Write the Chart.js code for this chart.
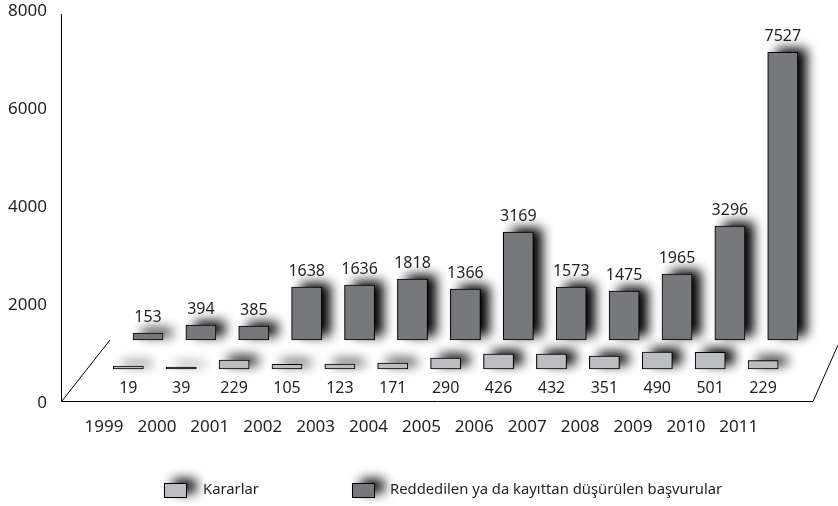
<!DOCTYPE html>
<html lang="tr">
<head>
  <meta charset="UTF-8" />
  <title>Kararlar ve Reddedilen Başvurular</title>
  <script src="https://cdn.jsdelivr.net/npm/chart.js"></script>
  <style>
    body { margin: 0; background: #fff; }
    canvas { display: block; }
  </style>
</head>
<body>
  <canvas id="chart" width="838" height="506"></canvas>

  <script>
    const years = ['1999','2000','2001','2002','2003','2004','2005','2006','2007','2008','2009','2010','2011'];

    // printed values
    const kararlar = [19, 39, 229, 105, 123, 171, 290, 426, 432, 351, 490, 501, 229];
    const reddedilen = [153, 394, 385, 1638, 1636, 1818, 1366, 3169, 1573, 1475, 1965, 3296, 7527];

    // the bars stand on a fake 3D floor, so their ends are read against the left axis
    const kararlarFloor = 663;
    const reddedilenFloor = 1255;
    const kararlarTop = [724, 704, 847, 759, 765, 786, 888, 969, 969, 929, 1010, 1004, 833];
    const reddedilenTop = [1398, 1561, 1541, 2337, 2378, 2500, 2296, 3459, 2337, 2255, 2602, 3582, 7127];

    const yTicks = [0, 2000, 4000, 6000, 8000];
    const textColor = '#231f20';
    const font = '"Noto Sans", sans-serif';

    const frontOffset = 0.459;
    const backOffset = 0.832;

    function dropShadow(ctx, x, y, w, h) {
      ctx.save();
      ctx.shadowColor = 'rgba(0,0,0,1)';
      ctx.shadowBlur = 12;
      ctx.shadowOffsetX = 9;
      ctx.shadowOffsetY = -4;
      ctx.fillStyle = '#000';
      ctx.fillRect(x, y, w, h);
      ctx.restore();
    }

    // labels must not push the plot area around
    function fixBox(scale, size) {
      Object.assign(scale, size, { paddingTop: 0, paddingBottom: 0, paddingLeft: 0, paddingRight: 0 });
    }

    const barShadow = {
      id: 'barShadow',
      beforeDatasetDraw(chart, args) {
        chart.getDatasetMeta(args.index).data.forEach(bar => {
          const p = bar.getProps(['x', 'y', 'base', 'width']);
          dropShadow(chart.ctx, p.x - p.width / 2, p.y, p.width, p.base - p.y);
        });
      }
    };

    const frame = {
      id: 'frame',
      beforeDatasetsDraw(chart) {
        const { ctx, scales: { y } } = chart;
        const bottom = y.getPixelForValue(0);
        ctx.save();
        ctx.strokeStyle = '#000';
        ctx.lineWidth = 1;
        ctx.beginPath();
        ctx.moveTo(61.5, 14);
        ctx.lineTo(61.5, bottom);
        ctx.lineTo(813, bottom);
        ctx.lineTo(838, 345);
        ctx.moveTo(61.5, bottom);
        ctx.lineTo(110, 340);
        ctx.stroke();
        ctx.restore();
      }
    };

    const valueLabels = {
      id: 'valueLabels',
      afterDatasetsDraw(chart) {
        const { ctx } = chart;
        ctx.save();
        ctx.fillStyle = textColor;
        ctx.font = '16px ' + font;
        ctx.textAlign = 'center';
        chart.data.datasets.forEach((ds, d) => {
          chart.getDatasetMeta(d).data.forEach((bar, i) => {
            const p = bar.getProps(['x', 'y', 'base']);
            if (d === 0) {
              ctx.textBaseline = 'middle';
              ctx.fillText(ds.values[i], p.x, p.base + 19);
            } else {
              ctx.textBaseline = 'alphabetic';
              ctx.fillText(ds.values[i], p.x, p.y - 11);
            }
          });
        });
        ctx.restore();
      }
    };

    const legendBox = {
      id: 'legendBox',
      afterDraw(chart) {
        const { ctx } = chart;
        const items = [
          { x: 164, textX: 203 },
          { x: 352, textX: 390 }
        ];
        ctx.save();
        ctx.font = '14.8px ' + font;
        ctx.textBaseline = 'middle';
        items.forEach((item, i) => {
          const ds = chart.data.datasets[i];
          dropShadow(ctx, item.x, 483, 23, 14);
          ctx.fillStyle = ds.backgroundColor;
          ctx.strokeStyle = '#000';
          ctx.fillRect(item.x + 0.5, 483.5, 22, 14);
          ctx.strokeRect(item.x + 0.5, 483.5, 22, 14);
          ctx.fillStyle = textColor;
          ctx.fillText(ds.label, item.textX, 490);
        });
        ctx.restore();
      }
    };

    new Chart(document.getElementById('chart'), {
      type: 'bar',
      data: {
        datasets: [
          {
            label: 'Kararlar',
            values: kararlar,
            data: kararlarTop.map((top, i) => ({ x: i + frontOffset, y: [kararlarFloor, top] })),
            backgroundColor: '#bcbdc0'
          },
          {
            label: 'Reddedilen ya da kayıttan düşürülen başvurular',
            values: reddedilen,
            data: reddedilenTop.map((top, i) => ({ x: i + backOffset, y: [reddedilenFloor, top] })),
            backgroundColor: '#77787b'
          }
        ]
      },
      options: {
        responsive: false,
        animation: false,
        layout: { padding: { top: 9.5 } },
        datasets: {
          bar: { grouped: false, barThickness: 30, borderWidth: 1, borderColor: '#000', borderSkipped: false }
        },
        plugins: { legend: { display: false }, tooltip: { enabled: false } },
        scales: {
          x: {
            type: 'linear',
            offset: false,
            min: -0.813,
            max: 13.875,
            afterFit(scale) { fixBox(scale, { height: 104.5 }); },
            afterBuildTicks(scale) { scale.ticks = years.map((y, i) => ({ value: i })); },
            grid: { display: false, drawTicks: false },
            border: { display: false },
            ticks: {
              autoSkip: false,
              maxRotation: 0,
              padding: 15,
              color: textColor,
              font: { family: font, size: 17 },
              callback: v => years[v]
            }
          },
          y: {
            min: 0,
            max: 8000,
            afterFit(scale) { fixBox(scale, { width: 61 }); },
            afterBuildTicks(scale) { scale.ticks = yTicks.map(value => ({ value })); },
            grid: { display: false, drawTicks: false },
            border: { display: false },
            ticks: {
              padding: 14,
              labelOffset: 2,
              color: textColor,
              font: { family: font, size: 17 },
              callback: v => String(v)
            }
          }
        }
      },
      plugins: [frame, barShadow, valueLabels, legendBox]
    });
  </script>
</body>
</html>
